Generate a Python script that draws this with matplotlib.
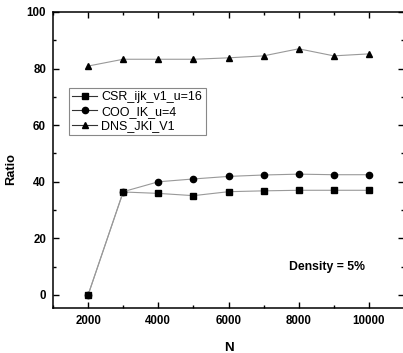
import matplotlib
matplotlib.use("Agg")
import matplotlib.pyplot as plt
from matplotlib.ticker import MultipleLocator

plt.rcParams['font.family'] = ['Liberation Sans', 'DejaVu Sans']

N = [2000, 3000, 4000, 5000, 6000, 7000, 8000, 9000, 10000]
csr = [0, 36.4, 35.9, 35.1, 36.5, 36.8, 37.0, 37.0, 37.0]
coo = [0, 36.5, 40.0, 41.0, 41.9, 42.4, 42.7, 42.5, 42.5]
dns = [80.9, 83.3, 83.3, 83.3, 83.8, 84.5, 87.0, 84.5, 85.2]
labels = ['CSR_ijk_v1_u=16', 'COO_IK_u=4', 'DNS_JKI_V1']

fig = plt.figure(figsize=(4.03, 3.53), dpi=100)
ax = fig.add_axes([53/403, 1-308/353, 351/403, 296/353])

lc = '#999999'
for y, m, ms, lab in [(csr, 's', 4.0, labels[0]), (coo, 'o', 4.5, labels[1]), (dns, '^', 4.8, labels[2])]:
    ax.plot(N, y, color=lc, lw=0.8, marker=m, markersize=ms,
            markerfacecolor='black', markeredgecolor='black', label=lab)

ax.set_xlim(1000, 11000)
ax.set_ylim(-4.6, 100)
ax.xaxis.set_major_locator(MultipleLocator(2000))
ax.xaxis.set_minor_locator(MultipleLocator(1000))
ax.yaxis.set_major_locator(MultipleLocator(20))
ax.yaxis.set_minor_locator(MultipleLocator(10))
ax.tick_params(which='both', direction='in', top=True, right=True, width=1.0)
ax.tick_params(which='major', length=4, labelsize=8.3, pad=5)
ax.tick_params(which='minor', length=2.2)
for lbl in ax.get_xticklabels() + ax.get_yticklabels():
    lbl.set_fontweight('bold')
for s in ax.spines.values():
    s.set_linewidth(1.1)

ax.set_xlabel('N', fontsize=9.5, fontweight='bold', labelpad=11)
ax.set_ylabel('Ratio', fontsize=9.2, fontweight='bold')
ax.yaxis.set_label_coords(-0.118, 0.47)
ax.yaxis.label.set_va('center')

ax.text(8800, 10, 'Density = 5%', fontsize=8.8, fontweight='bold', ha='center', va='center')

leg = fig.legend(loc='upper left', bbox_to_anchor=(69/403, 1-88/353), fontsize=9,
                 frameon=True, fancybox=False, edgecolor='#888888', framealpha=1,
                 handlelength=2.0, handletextpad=0.35, borderpad=0.25, labelspacing=0.2,
                 borderaxespad=0)
leg.get_frame().set_linewidth(0.8)
for h in leg.legend_handles:
    h.set_color('#333333')
    h.set_markerfacecolor('black')
    h.set_markeredgecolor('black')

fig.savefig('out.png', dpi=100)
